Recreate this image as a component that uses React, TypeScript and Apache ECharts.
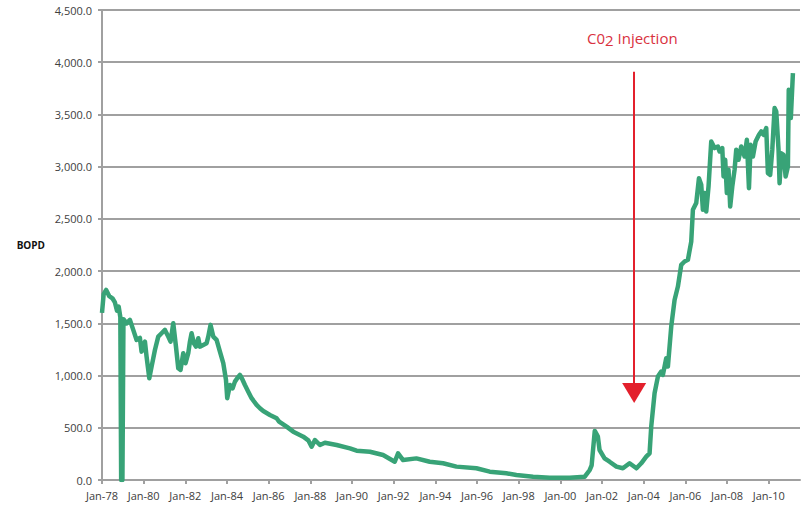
import React, { useEffect, useRef } from "react";
import * as echarts from "echarts";

const years = [
  1978.0, 1978.08, 1978.2, 1978.35, 1978.5, 1978.62, 1978.72, 1978.8, 1978.88, 1978.92, 1978.98, 1979.03,
  1979.18, 1979.34, 1979.5, 1979.66, 1979.82, 1979.9, 1980.06, 1980.14, 1980.27, 1980.38, 1980.54, 1980.7,
  1980.86, 1981.02, 1981.18, 1981.29, 1981.42, 1981.55, 1981.66, 1981.77, 1981.9, 1982.01, 1982.14, 1982.22,
  1982.3, 1982.41, 1982.51, 1982.62, 1982.7, 1982.86, 1983.02, 1983.1, 1983.21, 1983.34, 1983.5, 1983.66,
  1983.82, 1983.95, 1984.01, 1984.14, 1984.27, 1984.38, 1984.49, 1984.62, 1984.75, 1984.86, 1985.02, 1985.18,
  1985.42, 1985.58, 1985.74, 1986.06, 1986.38, 1986.5, 1986.86, 1987.18, 1987.66, 1987.9, 1988.06, 1988.22,
  1988.46, 1988.7, 1989.26, 1989.9, 1990.22, 1990.86, 1991.49, 1992.05, 1992.21, 1992.45, 1993.09, 1993.73,
  1994.37, 1995.01, 1995.97, 1996.61, 1997.41, 1997.89, 1998.69, 1999.49, 2000.45, 2001.17, 2001.41, 2001.5,
  2001.65, 2001.8, 2001.88, 2002.12, 2002.36, 2002.69, 2003.0, 2003.32, 2003.65, 2003.88, 2004.12, 2004.28,
  2004.36, 2004.52, 2004.68, 2004.84, 2004.92, 2005.08, 2005.16, 2005.32, 2005.48, 2005.64, 2005.8, 2005.96,
  2006.12, 2006.28, 2006.36, 2006.52, 2006.65, 2006.76, 2006.84, 2006.92, 2007.0, 2007.11, 2007.24, 2007.4,
  2007.56, 2007.64, 2007.77, 2007.83, 2007.91, 2007.99, 2008.07, 2008.15, 2008.25, 2008.36, 2008.44, 2008.55,
  2008.68, 2008.84, 2008.95, 2009.05, 2009.13, 2009.24, 2009.37, 2009.53, 2009.64, 2009.75, 2009.88, 2009.96,
  2010.07, 2010.17, 2010.28, 2010.36, 2010.47, 2010.52, 2010.6, 2010.71, 2010.81, 2010.92, 2010.96, 2011.06,
  2011.16,
];

const bopd = [
  1600, 1780, 1820, 1760, 1740, 1700, 1620, 1660, 1560, 0, 0, 1540,
  1500, 1533, 1437, 1341, 1360, 1229, 1325, 1181, 974, 1085, 1245, 1373,
  1405, 1437, 1373, 1325, 1500, 1277, 1070, 1054, 1214, 1118, 1214, 1325,
  1405, 1309, 1277, 1357, 1277, 1293, 1309, 1373, 1485, 1373, 1341, 1229,
  1118, 958, 783, 910, 878, 942, 974, 1006, 958, 910, 846, 783,
  719, 687, 660, 623, 591, 559, 511, 463, 415, 380, 319, 383,
  335, 357, 335, 303, 281, 271, 239, 175, 255, 191, 207, 175,
  160, 128, 112, 80, 64, 48, 32, 22, 22, 32, 96, 140,
  470, 415, 287, 207, 175, 128, 112, 160, 112, 160, 223, 255,
  511, 831, 990, 1038, 1006, 1166, 1086, 1469, 1724, 1852, 2060, 2092,
  2108, 2283, 2587, 2651, 2890, 2826, 2587, 2747, 2570, 2810, 3241, 3178,
  3193, 3145, 3178, 2906, 3066, 2747, 2970, 2618, 2810, 2970, 3162, 3066,
  3193, 3097, 3257, 2794, 3209, 3097, 3241, 3305, 3337, 3305, 3369, 2938,
  2922, 3162, 3561, 3529, 3162, 2842, 3129, 3113, 2906, 3002, 3736, 3465,
  3896,
];

const xTicks = [1978, 1980, 1982, 1984, 1986, 1988, 1990, 1992, 1994, 1996, 1998, 2000, 2002, 2004, 2006, 2008, 2010];

const injectionYear = 2003.54;
const arrowTop = 3908;
const arrowEnd = 833;

const FONT = "'Open Sans', 'DejaVu Sans', sans-serif";

export default function App() {
  const ref = useRef<HTMLDivElement>(null);

  useEffect(() => {
    document.body.style.margin = "0";
    if (!ref.current) return;
    const chart = echarts.init(ref.current, null, { renderer: "svg" });
    const data = years.map((y, i) => [y, bopd[i]]);
    chart.setOption({
      animation: false,
      grid: { left: 102, right: 4, top: 10, bottom: 28, containLabel: false },
      xAxis: {
        type: "value",
        min: 1978,
        max: 2011.5,
        interval: 2,
        splitLine: { show: false },
        axisLine: { show: true, lineStyle: { color: "#a0a0a0", width: 2 } },
        axisTick: {
          show: true,
          length: 4,
          customValues: xTicks,
          lineStyle: { color: "#a0a0a0", width: 2 },
        },
        axisLabel: {
          customValues: xTicks,
          margin: 10,
          color: "#404040",
          fontFamily: FONT,
          fontSize: 11,
          formatter: (v: number) => "Jan-" + String(Math.round(v) % 100).padStart(2, "0"),
        },
      },
      yAxis: {
        type: "value",
        min: 0,
        max: 4500,
        interval: 500,
        name: "BOPD",
        nameLocation: "middle",
        nameRotate: 0,
        nameGap: 57,
        nameTextStyle: { fontFamily: FONT, fontSize: 10, fontWeight: "bold", color: "#111", padding: [4, 0, 0, 0] },
        axisLine: { show: true, lineStyle: { color: "#a0a0a0", width: 2 } },
        axisTick: { show: true, length: 4, lineStyle: { color: "#a0a0a0", width: 2 } },
        splitLine: { show: true, lineStyle: { color: "#a0a0a0", width: 2 } },
        axisLabel: {
          margin: 10,
          color: "#404040",
          fontFamily: FONT,
          fontSize: 11,
          formatter: (v: number) =>
            v.toLocaleString("en-US", { minimumFractionDigits: 1, maximumFractionDigits: 1 }),
        },
      },
      series: [
        {
          type: "line",
          data,
          showSymbol: false,
          symbol: "none",
          lineStyle: { color: "#38a377", width: 4.5, join: "round" },
          markLine: {
            silent: true,
            symbol: ["none", "triangle"],
            symbolSize: [24, 20],
            label: { show: false },
            lineStyle: { color: "#e3202c", width: 2, type: "solid" },
            data: [
              [
                { coord: [injectionYear, arrowTop] },
                { coord: [injectionYear, arrowEnd] },
              ],
            ],
          },
        },
      ],
      graphic: [
        {
          type: "text",
          left: 587,
          top: 30,
          style: {
            text: "C0{s|2} Injection",
            fill: "#d9313e",
            fontFamily: FONT,
            fontSize: 15,
            rich: {
              s: { fontSize: 15, fill: "#d9313e", fontFamily: FONT, padding: [5, 0, 0, 0] },
            },
          },
        },
      ],
    });
    return () => chart.dispose();
  }, []);

  return <div ref={ref} style={{ width: 804, height: 508 }} />;
}
